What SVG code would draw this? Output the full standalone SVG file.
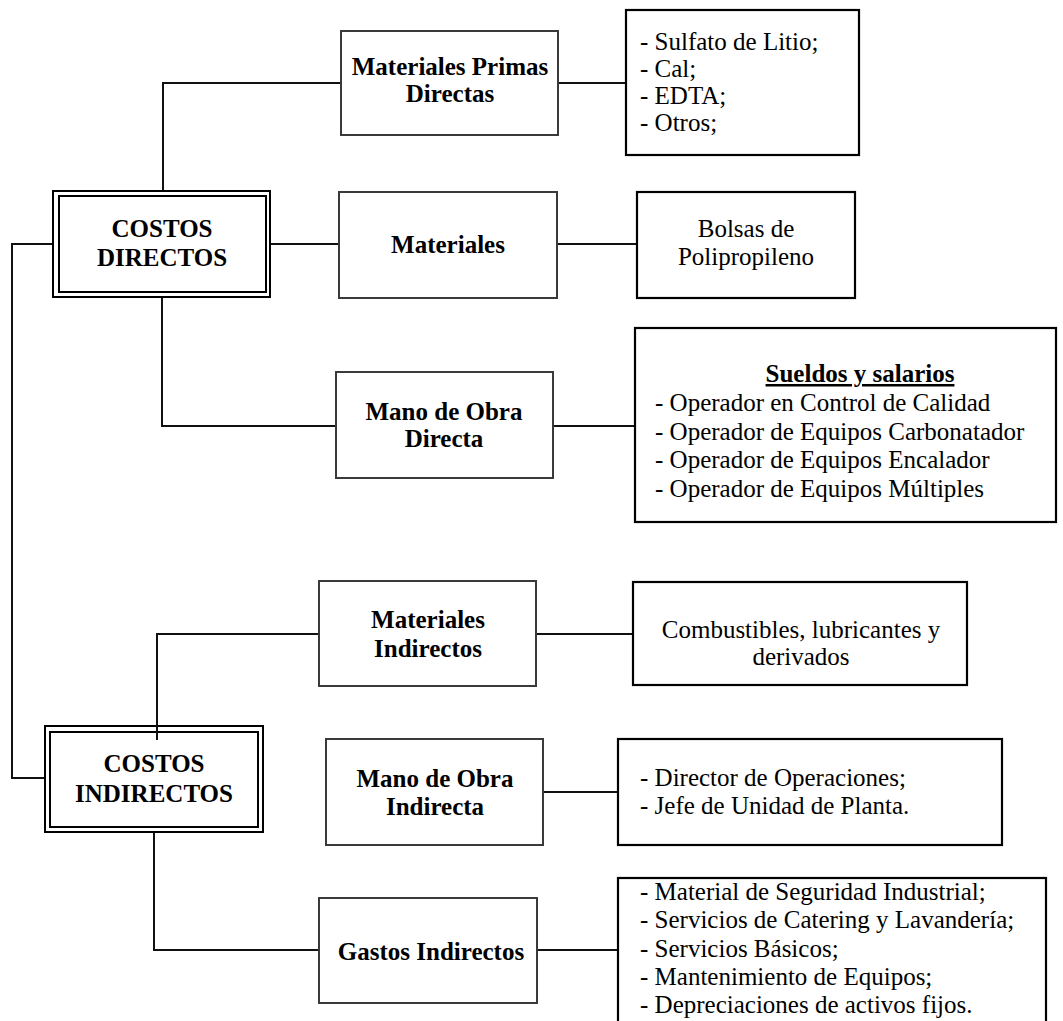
<svg xmlns="http://www.w3.org/2000/svg" width="1063" height="1021" viewBox="0 0 1063 1021">
  <style>
    .bg { fill: #ffffff; }
    .box { fill: #ffffff; stroke: #3a3a3a; stroke-width: 2; }
    .list { fill: #ffffff; stroke: #000000; stroke-width: 2.2; }
    .dbl { fill: #ffffff; stroke: #000000; stroke-width: 2; }
    .wire { fill: none; stroke: #111111; stroke-width: 2; }
    .t { font-family: "Liberation Serif", "Times New Roman", serif; font-size: 25px; fill: #000000; }
    .b { font-weight: bold; }
    .c { text-anchor: middle; }
  </style>
  <rect class="bg" x="0" y="0" width="1063" height="1021"/>

  <!-- connectors -->
  <g id="connectors">
    <polyline class="wire" points="163,191 163,83 341,83"/>
    <line class="wire" x1="558" y1="83" x2="626" y2="83"/>
    <line class="wire" x1="270" y1="244" x2="339" y2="244"/>
    <line class="wire" x1="557" y1="244" x2="637" y2="244"/>
    <polyline class="wire" points="162,297 162,426 336,426"/>
    <line class="wire" x1="553" y1="426" x2="635" y2="426"/>
    <polyline class="wire" points="53,244 12,244 12,778 45,778"/>
    <polyline class="wire" points="157,740 157,634 319,634"/>
    <line class="wire" x1="536" y1="634" x2="633" y2="634"/>
    <line class="wire" x1="543" y1="792" x2="618" y2="792"/>
    <polyline class="wire" points="154,832 154,950 319,950"/>
    <line class="wire" x1="537" y1="950" x2="618" y2="950"/>
  </g>

  <!-- costos directos -->
  <g id="costos-directos">
    <rect class="dbl" x="53" y="191" width="217" height="106" stroke-width="2.5"/>
    <rect class="dbl" x="59" y="196" width="207" height="96" fill="none"/>
    <text class="t b c" x="162" y="237">COSTOS</text>
    <text class="t b c" x="162" y="266">DIRECTOS</text>
  </g>

  <g id="materiales-primas-directas">
    <rect class="box" x="341" y="31" width="217" height="104"/>
    <text class="t b c" x="450" y="75">Materiales Primas</text>
    <text class="t b c" x="450" y="102">Directas</text>
  </g>

  <g id="lista-materias-primas">
    <rect class="list" x="626" y="10" width="233" height="145"/>
    <text class="t" x="640" y="50">- Sulfato de Litio;</text>
    <text class="t" x="640" y="77">- Cal;</text>
    <text class="t" x="640" y="104">- EDTA;</text>
    <text class="t" x="640" y="131">- Otros;</text>
  </g>

  <g id="materiales">
    <rect class="box" x="339" y="192" width="218" height="106"/>
    <text class="t b c" x="448" y="253">Materiales</text>
  </g>

  <g id="bolsas">
    <rect class="list" x="637" y="192" width="218" height="106"/>
    <text class="t c" x="746" y="237">Bolsas de</text>
    <text class="t c" x="746" y="265">Polipropileno</text>
  </g>

  <g id="mano-obra-directa">
    <rect class="box" x="336" y="372" width="217" height="106"/>
    <text class="t b c" x="444" y="420">Mano de Obra</text>
    <text class="t b c" x="444" y="447">Directa</text>
  </g>

  <g id="sueldos-salarios">
    <rect class="list" x="635" y="328" width="421" height="194"/>
    <text class="t b c" x="860" y="382" text-decoration="underline">Sueldos y salarios</text>
    <text class="t" x="655" y="411">- Operador en Control de Calidad</text>
    <text class="t" x="655" y="440">- Operador de Equipos Carbonatador</text>
    <text class="t" x="655" y="468">- Operador de Equipos Encalador</text>
    <text class="t" x="655" y="497">- Operador de Equipos Múltiples</text>
  </g>

  <!-- costos indirectos -->
  <g id="costos-indirectos">
    <rect class="dbl" x="45" y="726" width="218" height="106" stroke-width="2.5"/>
    <rect class="dbl" x="50" y="732" width="208" height="95" fill="none"/>
    <line class="wire" x1="157" y1="724" x2="157" y2="740"/>
    <text class="t b c" x="154" y="772">COSTOS</text>
    <text class="t b c" x="154" y="802">INDIRECTOS</text>
  </g>

  <g id="materiales-indirectos">
    <rect class="box" x="319" y="581" width="217" height="105"/>
    <text class="t b c" x="428" y="628">Materiales</text>
    <text class="t b c" x="428" y="657">Indirectos</text>
  </g>

  <g id="combustibles">
    <rect class="list" x="633" y="582" width="334" height="103"/>
    <text class="t c" x="801" y="638">Combustibles, lubricantes y</text>
    <text class="t c" x="801" y="665">derivados</text>
  </g>

  <g id="mano-obra-indirecta">
    <rect class="box" x="326" y="739" width="217" height="106"/>
    <text class="t b c" x="435" y="787">Mano de Obra</text>
    <text class="t b c" x="435" y="815">Indirecta</text>
  </g>

  <g id="personal-indirecto">
    <rect class="list" x="618" y="739" width="384" height="106"/>
    <text class="t" x="640" y="786">- Director de Operaciones;</text>
    <text class="t" x="640" y="814">- Jefe de Unidad de Planta.</text>
  </g>

  <g id="gastos-indirectos">
    <rect class="box" x="319" y="898" width="218" height="105"/>
    <text class="t b c" x="431" y="960">Gastos Indirectos</text>
  </g>

  <g id="lista-gastos">
    <rect class="list" x="618" y="878" width="428" height="160"/>
    <text class="t" x="640" y="900">- Material de Seguridad Industrial;</text>
    <text class="t" x="640" y="928">- Servicios de Catering y Lavandería;</text>
    <text class="t" x="640" y="957">- Servicios Básicos;</text>
    <text class="t" x="640" y="985">- Mantenimiento de Equipos;</text>
    <text class="t" x="640" y="1013">- Depreciaciones de activos fijos.</text>
  </g>
</svg>
